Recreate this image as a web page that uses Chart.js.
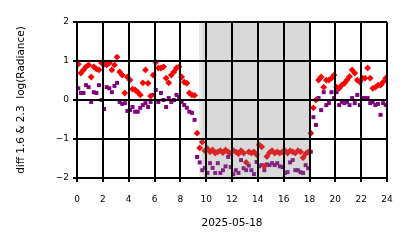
<!DOCTYPE html>
<html><head><meta charset="utf-8">
<script src="https://cdn.jsdelivr.net/npm/chart.js@4/dist/chart.umd.min.js"></script>
<style>html,body{margin:0;padding:0;background:#fff}canvas{display:block}</style>
</head><body>
<canvas id="c" width="414" height="248"></canvas>
<script>
const hours = [0.1,0.3,0.5,0.7,0.9,1.1,1.3,1.5,1.7,1.9,
  2.1,2.3,2.5,2.7,2.9,3.1,3.3,3.5,3.7,3.9,
  4.1,4.3,4.5,4.7,4.9,5.1,5.3,5.5,5.7,5.9,
  6.1,6.3,6.5,6.7,6.9,7.1,7.3,7.5,7.7,7.9,
  8.1,8.3,8.5,8.7,8.9,9.1,9.3,9.5,9.7,9.9,
  10.1,10.3,10.5,10.7,10.9,11.1,11.3,11.5,11.7,11.9,
  12.1,12.3,12.5,12.7,12.9,13.1,13.3,13.5,13.7,13.9,
  14.1,14.3,14.5,14.7,14.9,15.1,15.3,15.5,15.7,15.9,
  16.1,16.3,16.5,16.7,16.9,17.1,17.3,17.5,17.7,17.9,
  18.1,18.3,18.5,18.7,18.9,19.1,19.3,19.5,19.7,19.9,
  20.1,20.3,20.5,20.7,20.9,21.1,21.3,21.5,21.7,21.9,
  22.1,22.3,22.5,22.7,22.9,23.1,23.3,23.5,23.7,23.9];
const diffRed = [0.92,0.69,0.77,0.85,0.9,0.59,0.85,0.8,0.77,0.95,
  0.92,0.9,0.95,0.77,0.9,1.1,0.72,0.64,0.18,0.59,
  0.51,0.28,0.26,0.2,0.13,0.44,0.77,0.43,0.1,0.64,
  0.97,0.82,0.82,0.85,0.56,0.44,0.64,0.72,0.82,0.85,
  0.59,0.46,0.43,0.18,0.13,0.12,-0.85,-1.23,-1.08,-1.3,
  -1.25,-1.33,-1.28,-1.36,-1.33,-1.3,-1.35,-1.28,-1.33,-1.36,
  -1.3,-1.33,-1.38,-1.3,-1.36,-1.6,-1.33,-1.36,-1.33,-1.4,
  -1.15,-1.2,-1.7,-1.45,-1.35,-1.3,-1.36,-1.33,-1.36,-1.33,
  -1.3,-1.36,-1.3,-1.33,-1.36,-1.3,-1.33,-1.48,-1.38,-1.33,
  -0.85,-0.2,0,0.51,0.59,0.33,0.51,0.51,0.56,0.64,
  0.33,0.3,0.38,0.43,0.51,0.6,0.77,0.69,0.51,0.46,
  0.56,0.56,0.82,0.56,0.3,0.33,0.38,0.38,0.46,0.56];
const diffPurple = [0.3,0.18,0.18,0.38,0.33,-0.05,0.2,0.18,0.38,0,
  -0.23,0.33,0.3,0.2,0.36,0.44,-0.05,-0.1,-0.08,-0.28,
  -0.26,-0.18,-0.3,-0.3,-0.2,-0.13,-0.08,-0.18,-0.05,0.13,
  0.26,-0.05,0.18,0,-0.18,0.05,-0.05,0,0.13,0.08,
  -0.05,-0.13,-0.2,-0.3,-0.33,-0.51,-1.46,-1.6,-1.8,-1.74,
  -1.87,-1.62,-1.74,-1.87,-1.62,-1.87,-1.8,-1.7,-1.46,-1.72,
  -1.9,-1.8,-1.87,-1.54,-1.75,-1.8,-1.68,-1.8,-1.9,-1.59,
  -1.7,-1.67,-1.8,-1.65,-1.67,-1.62,-1.67,-1.62,-1.7,-1.72,
  -1.87,-1.85,-1.6,-1.54,-1.8,-1.8,-1.85,-1.87,-1.67,-1.75,
  -1.33,-0.44,-0.64,0.05,-0.26,0.2,-0.13,-0.08,0.2,0.05,
  0.2,-0.13,-0.05,-0.08,-0.05,-0.13,0.05,-0.08,0.13,-0.13,
  0.05,0.05,0.05,-0.08,-0.05,-0.13,-0.1,-0.38,-0.08,-0.13];
const xTickValues = [0,2,4,6,8,10,12,14,16,18,20,22,24];
const yTickValues = [-2,-1,0,1,2];
const shadeOuter = [9.45, 18.0];
const shadeInner = [9.7, 18.0];
const xTitle = '2025-05-18';
const yTitle = 'diff 1.6 & 2.3  log(Radiance)';

const shadePlugin = {
  id: 'shade',
  afterDatasetsDraw(chart) {
    const {ctx, chartArea: a, scales: {x}} = chart;
    ctx.save();
    const fill = (span, col) => {
      const x0 = x.getPixelForValue(span[0]), x1 = x.getPixelForValue(span[1]);
      ctx.fillStyle = col;
      ctx.fillRect(x0, a.top, x1 - x0, a.bottom - a.top);
    };
    fill(shadeOuter, 'rgba(128,128,128,0.18)');
    fill(shadeInner, 'rgba(128,128,128,0.14)');
    ctx.restore();
  }
};

const font = 'DejaVu Sans';
const gridCfg = {color: '#000', lineWidth: 2, tickLength: 4, z: 1, drawTicks: true};
const borderCfg = {color: '#000', width: 2, z: 1};

new Chart(document.getElementById('c'), {
  type: 'scatter',
  data: {
    datasets: [
      {data: hours.map((h, i) => ({x: h, y: diffRed[i]})), pointStyle: 'rectRot', pointRadius: 3.4,
       backgroundColor: '#ff0000', borderWidth: 0},
      {data: hours.map((h, i) => ({x: h, y: diffPurple[i]})), pointStyle: 'rect', pointRadius: 2.8,
       backgroundColor: '#800080', borderWidth: 0}
    ]
  },
  options: {
    responsive: false, animation: false, devicePixelRatio: 1,
    layout: {padding: {top: 22, right: 27, left: 0, bottom: 0}},
    plugins: {legend: {display: false}, tooltip: {enabled: false}},
    scales: {
      x: {
        type: 'linear', min: 0, max: 24,
        afterBuildTicks: s => { s.ticks = xTickValues.map(v => ({value: v})); },
        ticks: {autoSkip: false, maxRotation: 0, color: '#000', padding: 12, font: {family: font, size: 9}},
        grid: gridCfg, border: borderCfg,
        title: {display: true, text: xTitle, color: '#000', font: {family: font, size: 10.5}, padding: {top: 0, bottom: 18}},
        afterFit: s => { s.height = 70; }
      },
      y: {
        min: -2, max: 2,
        afterBuildTicks: s => { s.ticks = yTickValues.map(v => ({value: v})); },
        ticks: {color: '#000', padding: 4, font: {family: font, size: 9},
          callback: v => String(v).replace('-', '\u2212')},
        grid: gridCfg, border: borderCfg,
        title: {display: true, text: yTitle, color: '#000', font: {family: font, size: 10.5}, padding: {top: 15, bottom: 0}},
        afterFit: s => { s.width = 77; }
      }
    }
  },
  plugins: [shadePlugin]
});
</script>
</body></html>
